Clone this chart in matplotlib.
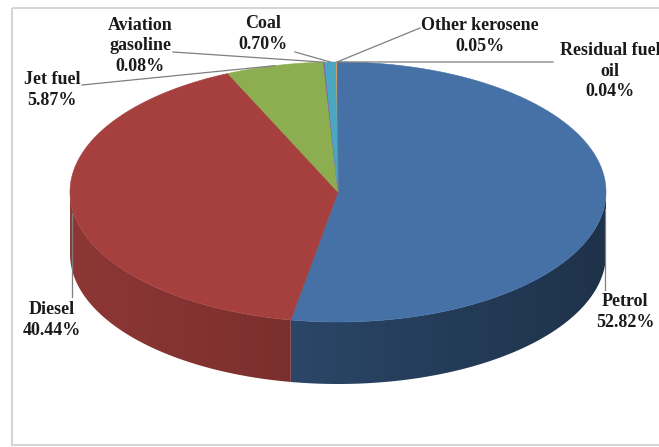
import numpy as np
import matplotlib.pyplot as plt
from matplotlib.patches import Polygon, Rectangle
from matplotlib.colors import to_rgb

# fuel shares (%)
fuels = ['Petrol', 'Diesel', 'Jet fuel', 'Aviation\ngasoline', 'Coal',
         'Other kerosene', 'Residual fuel\noil']
shares = [52.82, 40.44, 5.87, 0.08, 0.70, 0.05, 0.04]
colors = ['#4571A7', '#A5403E', '#8DAE50', '#7E63A0', '#4AA7C2', '#F39544', '#4571A7']

# where each label sits and where its leader line starts (pixels)
label_xy = [(625, 312), (52, 320), (52, 90), (140, 46), (263, 34), (480, 36), (610, 71)]
leader_end = [None, None, (82, 85), (173, 52), (295, 52), (420, 28), (553, 62)]
leader_drop = [290, 297, None, None, None, None, None]

cx, cy, a, b, depth = 338, 192, 268, 130, 62

fig = plt.figure(figsize=(6.59, 4.47), dpi=100)
ax = fig.add_axes([0, 0, 1, 1])
ax.set_xlim(0, 659)
ax.set_ylim(447, 0)
ax.axis('off')

ax.add_patch(Rectangle((12, 8), 680, 437, fill=False, edgecolor='#D6D6D6', lw=1.5))

bounds = np.concatenate([[0], np.cumsum(shares)]) / sum(shares) * 360


def rim(t, dy=0.0):
    r = np.radians(t)
    return np.column_stack([cx + a * np.sin(r), cy - b * np.cos(r) + dy])


# side wall (front half only), shaded lighter towards the left
side_factor = [(0.62, 0.44), (0.86, 0.74), (0.8, 0.7), (0.8, 0.7), (0.8, 0.7), (0.8, 0.7), (0.8, 0.7)]
for i, c in enumerate(colors):
    lo, hi = max(bounds[i], 90), min(bounds[i + 1], 270)
    if hi <= lo:
        continue
    ts = np.linspace(lo, hi, 200)
    wall = np.vstack([rim(ts), rim(ts[::-1], depth)])
    x0, x1 = wall[:, 0].min() - 1, wall[:, 0].max() + 1
    y0, y1 = wall[:, 1].min() - 1, wall[:, 1].max() + 1
    f0, f1 = side_factor[i]
    f = np.linspace(f0, f1, 256)
    grad = np.clip(np.array(to_rgb(c))[None, None, :] * f[None, :, None], 0, 1)
    patch = Polygon(wall, closed=True, facecolor='none', edgecolor='none')
    ax.add_patch(patch)
    im = ax.imshow(grad, extent=(x0, x1, y1, y0), aspect='auto', interpolation='bilinear', zorder=1)
    im.set_clip_path(patch)

# top face
for i, c in enumerate(colors):
    ts = np.linspace(bounds[i], bounds[i + 1], max(int(bounds[i + 1] - bounds[i]) * 2, 2))
    pts = np.vstack([[cx, cy], rim(ts)])
    ax.add_patch(Polygon(pts, closed=True, facecolor=c, edgecolor=c, lw=0.4, zorder=2))

# labels and leader lines
for i, name in enumerate(fuels):
    mid = (bounds[i] + bounds[i + 1]) / 2
    px, py = rim([mid])[0]
    if leader_drop[i] is not None:
        ax.plot([px, px], [py + 5, leader_drop[i]], color='#7F7F7F', lw=0.9, zorder=3)
    else:
        ex, ey = leader_end[i]
        ax.plot([ex, px], [ey, py], color='#7F7F7F', lw=0.9, zorder=3)
    pct = f'{shares[i]:.2f}%'
    ax.text(label_xy[i][0], label_xy[i][1], f'{name}\n{pct}', ha='center', va='center',
            fontsize=13, fontweight='bold', family='Liberation Serif', linespacing=1.3,
            color='#1A1A1A', zorder=4)

ax.set_xlim(0, 659)
ax.set_ylim(447, 0)
fig.savefig('out.png', dpi=100)
